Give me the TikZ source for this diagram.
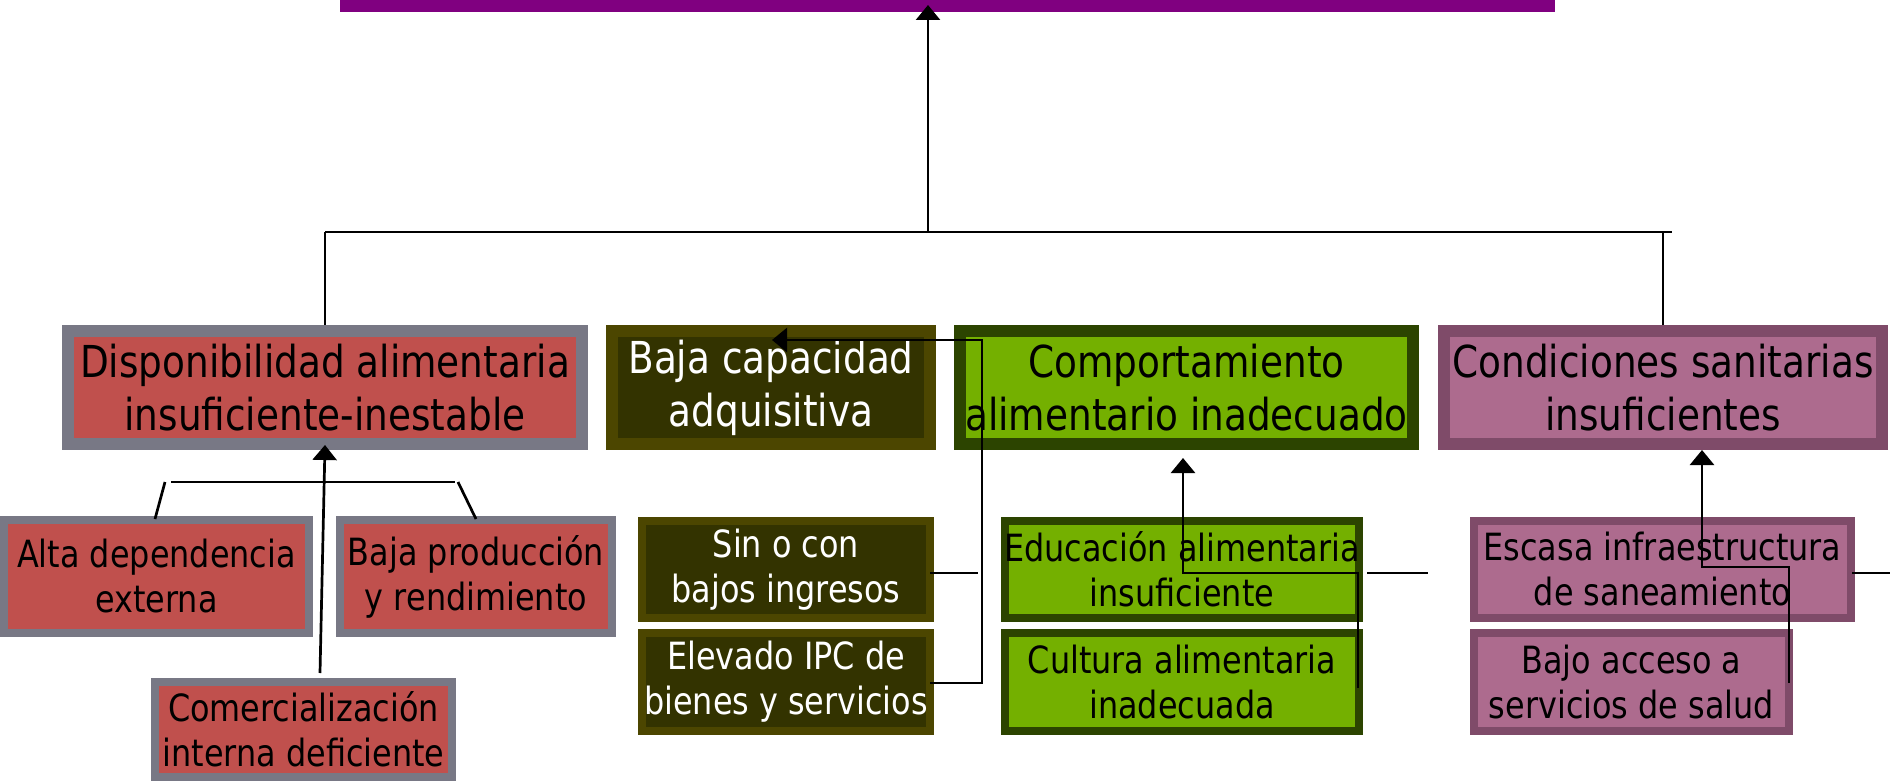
\documentclass[tikz,border=0pt]{standalone}
\usepackage{fontspec}
\setmainfont{DejaVu Sans}[FakeStretch=0.85]
\usetikzlibrary{arrows.meta}
\definecolor{grayb}{HTML}{787885}
\definecolor{redf}{HTML}{C0504D}
\definecolor{oliveb}{HTML}{4C4600}
\definecolor{olivef}{HTML}{333300}
\definecolor{greenb}{HTML}{2C4400}
\definecolor{greenf}{HTML}{74B000}
\definecolor{mauveb}{HTML}{7F4B69}
\definecolor{mauvef}{HTML}{AD6B8E}
\definecolor{topp}{HTML}{800080}
\newcommand\zc[1]{\makebox[0pt]{#1}}
\tikzset{
  bx/.style={rectangle, inner sep=0pt, align=center, anchor=center},
  topbox/.style={bx, line width=6pt, minimum height=56.5pt, font=\fontsize{22}{26.5}\selectfont},
  subbox/.style={bx, line width=4pt, font=\fontsize{18.75}{22.5}\selectfont},
  redbox/.style={draw=grayb, fill=redf, text=black},
  olivebox/.style={draw=oliveb, fill=olivef, text=white},
  greenbox/.style={draw=greenb, fill=greenf, text=black},
  mauvebox/.style={draw=mauveb, fill=mauvef, text=black},
  ln/.style={line width=1.35pt, black},
  arr/.style={ln, -{Triangle[length=7.5pt,width=12pt]}}
}
\begin{document}
\begin{tikzpicture}[x=0.5pt, y=-0.5pt]
\useasboundingbox (0,0) rectangle (1890,781);
% top bar
\node[bx, fill=topp, minimum width=607.5pt, minimum height=6pt] (top) at (947.5,6) {};
% level 1
\node[topbox, redbox, minimum width=257pt] (disp) at (325,387.5)
  {\zc{Disponibilidad alimentaria}\\\zc{insuficiente-inestable}};
\node[topbox, olivebox, minimum width=159pt] (baja) at (771,387.5)
  {\zc{Baja capacidad}\\\zc{adquisitiva}};
\node[topbox, greenbox, minimum width=226.5pt] (comp) at (1186.5,387.5)
  {\zc{Comportamiento}\\\zc{alimentario inadecuado}};
\node[topbox, mauvebox, minimum width=219pt] (cond) at (1663,387.5)
  {\zc{Condiciones sanitarias}\\\zc{insuficientes}};
% level 2
\node[subbox, redbox, minimum width=152.5pt, minimum height=56.5pt] (alta) at (156.5,576.5)
  {\zc{Alta dependencia}\\\zc{externa}};
\node[subbox, redbox, minimum width=136pt, minimum height=56.5pt] (prod) at (476,576.5)
  {\zc{Baja producción}\\\zc{y rendimiento}};
\node[subbox, redbox, minimum width=148.5pt, minimum height=47.5pt] (come) at (303.5,729.5)
  {\zc{Comercialización}\\\zc{interna deficiente}};
\node[subbox, olivebox, minimum width=144pt, minimum height=48.5pt] (sin) at (786,569.5)
  {\zc{Sin o con}\\\zc{bajos ingresos}};
\node[subbox, olivebox, minimum width=144pt, minimum height=49pt] (elev) at (786,682)
  {\zc{Elevado IPC de}\\\zc{bienes y servicios}};
\node[subbox, greenbox, minimum width=177pt, minimum height=48.5pt] (educ) at (1182,569.5)
  {\zc{Educación alimentaria}\\\zc{insuficiente}};
\node[subbox, greenbox, minimum width=177pt, minimum height=49pt] (cult) at (1182,682)
  {\zc{Cultura alimentaria}\\\zc{inadecuada}};
\node[subbox, mauvebox, minimum width=188.5pt, minimum height=48.5pt] (esca) at (1662.5,569.5)
  {\zc{Escasa infraestructura}\\\zc{de saneamiento}};
\node[subbox, mauvebox, minimum width=157.5pt, minimum height=49pt] (acce) at (1631.5,682)
  {\zc{Bajo acceso a}\\\zc{servicios de salud}};
% top connectors
\coordinate (tJ) at (928,232);
\coordinate (tTip) at (928,5);
\coordinate (tL) at (325,232);
\coordinate (tR) at (1672,232);
\coordinate (tRd) at (1663,232);
\draw[arr] (tJ) -- (tTip);
\draw[ln] (tL) -- (tR);
\draw[ln] (tL) -- (disp.north);
\draw[ln] (tRd) -- (cond.north);
% disponibilidad group
\coordinate (dh1) at (171,482);
\coordinate (dh2) at (455,482);
\coordinate (dsa) at (165,482);
\coordinate (dsb) at (155,519);
\coordinate (dsc) at (458,482);
\coordinate (dsd) at (476,519);
\coordinate (dc) at (320,673);
\coordinate (dtip) at (325,445);
\draw[ln] (dh1) -- (dh2);
\draw[ln] (dsa) -- (dsb);
\draw[ln] (dsc) -- (dsd);
\draw[arr] (dc) -- (dtip);
% baja capacidad group
\coordinate (b1) at (930,683);
\coordinate (b2) at (982,683);
\coordinate (b3) at (982,340);
\coordinate (btip) at (772,340);
\coordinate (s1) at (930,573);
\coordinate (s2) at (978,573);
\draw[arr] (b1) -- (b2) -- (b3) -- (btip);
\draw[ln] (s1) -- (s2);
% comportamiento group
\coordinate (c1) at (1358,688);
\coordinate (c2) at (1358,573);
\coordinate (c3) at (1183,573);
\coordinate (ctip) at (1183,458);
\coordinate (e1) at (1367,573);
\coordinate (e2) at (1428,573);
\draw[arr] (c1) -- (c2) -- (c3) -- (ctip);
\draw[ln] (e1) -- (e2);
% condiciones group
\coordinate (m1) at (1789,683);
\coordinate (m2) at (1789,567);
\coordinate (m3) at (1702,567);
\coordinate (mtip) at (1702,450);
\coordinate (f1) at (1852,573);
\coordinate (f2) at (1890,573);
\draw[arr] (m1) -- (m2) -- (m3) -- (mtip);
\draw[ln] (f1) -- (f2);
\end{tikzpicture}
\end{document}
